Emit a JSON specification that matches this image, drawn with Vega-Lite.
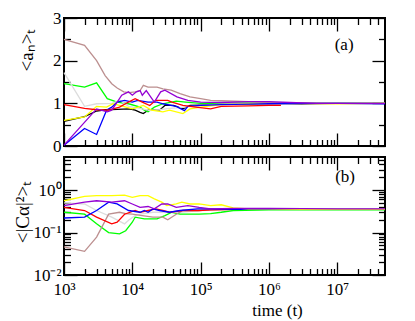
{
  "$schema": "https://vega.github.io/schema/vega-lite/v6.json",
  "padding": {"left": 12, "top": 8, "right": 30, "bottom": 3},
  "spacing": 11,
  "bounds": "flush",
  "config": {
    "view": {"stroke": "#000000", "strokeWidth": 2, "strokeOpacity": 1},
    "font": "Liberation Serif",
    "axis": {"grid": false, "domain": false, "ticks": true, "zindex": 2, "tickColor": "#000000", "tickOpacity": 1, "tickWidth": 1.3, "labelFont": "Liberation Serif", "labelFontSize": 17, "labelColor": "black", "labelFlush": false, "titleFont": "Liberation Serif", "titleFontSize": 19, "titleFontWeight": "normal", "titleColor": "black"}
  },
  "datasets": {
    "a": [
      {"s":"black","t":1000,"v":0.58},{"s":"black","t":2000,"v":0.69},{"s":"black","t":3000,"v":0.82},{"s":"black","t":4000,"v":0.85},{"s":"black","t":6000,"v":0.86},{"s":"black","t":9000,"v":0.87},{"s":"black","t":11000,"v":0.84},{"s":"black","t":13000,"v":0.79},{"s":"black","t":14500,"v":0.76},{"s":"black","t":17000,"v":0.84},{"s":"black","t":25000,"v":0.84},{"s":"black","t":30000,"v":0.95},{"s":"black","t":40000,"v":0.95},{"s":"black","t":55000,"v":0.87},{"s":"black","t":70000,"v":0.95},{"s":"black","t":100000,"v":0.96},{"s":"black","t":200000,"v":0.98},{"s":"black","t":500000,"v":0.99},{"s":"black","t":1000000,"v":1.0},{"s":"black","t":3000000,"v":0.99},{"s":"black","t":10000000,"v":1.0},{"s":"black","t":50000000,"v":1.0},
      {"s":"green","t":1000,"v":1.46},{"s":"green","t":2000,"v":1.38},{"s":"green","t":3000,"v":1.48},{"s":"green","t":4300,"v":1.11},{"s":"green","t":6000,"v":1.03},{"s":"green","t":8800,"v":0.99},{"s":"green","t":13000,"v":0.91},{"s":"green","t":15000,"v":0.84},{"s":"green","t":17000,"v":0.8},{"s":"green","t":21000,"v":0.91},{"s":"green","t":28000,"v":0.99},{"s":"green","t":44000,"v":1.05},{"s":"green","t":60000,"v":1.03},{"s":"green","t":100000,"v":1.0},{"s":"green","t":200000,"v":1.0},{"s":"green","t":500000,"v":1.01},{"s":"green","t":1000000,"v":1.0},{"s":"green","t":3000000,"v":1.0},{"s":"green","t":10000000,"v":1.0},{"s":"green","t":50000000,"v":1.0},
      {"s":"gray","t":1000,"v":1.72},{"s":"gray","t":2000,"v":0.93},{"s":"gray","t":3000,"v":0.99},{"s":"gray","t":5000,"v":1.0},{"s":"gray","t":6600,"v":1.07},{"s":"gray","t":8800,"v":0.93},{"s":"gray","t":13000,"v":0.88},{"s":"gray","t":18000,"v":0.83},{"s":"gray","t":25000,"v":0.85},{"s":"gray","t":35000,"v":0.88},{"s":"gray","t":50000,"v":0.9},{"s":"gray","t":100000,"v":0.95},{"s":"gray","t":200000,"v":0.98},{"s":"gray","t":500000,"v":1.0},{"s":"gray","t":1000000,"v":1.0},{"s":"gray","t":3000000,"v":1.01},{"s":"gray","t":10000000,"v":1.0},{"s":"gray","t":50000000,"v":1.0},
      {"s":"yellow","t":1000,"v":0.6},{"s":"yellow","t":2000,"v":0.68},{"s":"yellow","t":3000,"v":0.93},{"s":"yellow","t":4200,"v":0.91},{"s":"yellow","t":5200,"v":0.99},{"s":"yellow","t":6500,"v":0.95},{"s":"yellow","t":10000,"v":0.87},{"s":"yellow","t":14500,"v":0.95},{"s":"yellow","t":19000,"v":0.84},{"s":"yellow","t":28000,"v":0.8},{"s":"yellow","t":35000,"v":0.84},{"s":"yellow","t":55000,"v":0.76},{"s":"yellow","t":70000,"v":0.87},{"s":"yellow","t":100000,"v":0.91},{"s":"yellow","t":200000,"v":0.97},{"s":"yellow","t":500000,"v":0.99},{"s":"yellow","t":1000000,"v":1.0},{"s":"yellow","t":3000000,"v":1.0},{"s":"yellow","t":10000000,"v":0.99},{"s":"yellow","t":50000000,"v":1.0},
      {"s":"brown","t":1000,"v":2.5},{"s":"brown","t":2000,"v":2.36},{"s":"brown","t":3000,"v":2.0},{"s":"brown","t":4000,"v":1.65},{"s":"brown","t":5000,"v":1.46},{"s":"brown","t":6000,"v":1.36},{"s":"brown","t":7500,"v":1.27},{"s":"brown","t":9000,"v":1.25},{"s":"brown","t":11000,"v":1.27},{"s":"brown","t":13000,"v":1.3},{"s":"brown","t":14500,"v":1.42},{"s":"brown","t":17000,"v":1.38},{"s":"brown","t":23000,"v":1.38},{"s":"brown","t":28000,"v":1.34},{"s":"brown","t":37000,"v":1.31},{"s":"brown","t":50000,"v":1.23},{"s":"brown","t":70000,"v":1.15},{"s":"brown","t":100000,"v":1.11},{"s":"brown","t":140000,"v":1.07},{"s":"brown","t":200000,"v":1.06},{"s":"brown","t":500000,"v":1.04},{"s":"brown","t":1000000,"v":1.02},{"s":"brown","t":3000000,"v":1.01},{"s":"brown","t":10000000,"v":1.0},{"s":"brown","t":50000000,"v":1.0},
      {"s":"blue","t":1000,"v":0.02},{"s":"blue","t":2000,"v":0.41},{"s":"blue","t":3000,"v":0.27},{"s":"blue","t":4200,"v":0.84},{"s":"blue","t":5000,"v":0.91},{"s":"blue","t":6000,"v":1.03},{"s":"blue","t":7700,"v":1.07},{"s":"blue","t":10000,"v":1.03},{"s":"blue","t":12000,"v":1.07},{"s":"blue","t":17000,"v":1.03},{"s":"blue","t":23000,"v":1.03},{"s":"blue","t":28000,"v":0.99},{"s":"blue","t":44000,"v":0.93},{"s":"blue","t":58000,"v":0.83},{"s":"blue","t":65000,"v":0.93},{"s":"blue","t":100000,"v":0.95},{"s":"blue","t":200000,"v":0.97},{"s":"blue","t":500000,"v":0.98},{"s":"blue","t":1000000,"v":0.99},{"s":"blue","t":3000000,"v":1.0},{"s":"blue","t":10000000,"v":1.0},{"s":"blue","t":50000000,"v":0.99},
      {"s":"red","t":1000,"v":0.97},{"s":"red","t":2000,"v":0.88},{"s":"red","t":3000,"v":0.85},{"s":"red","t":4500,"v":0.84},{"s":"red","t":6500,"v":0.91},{"s":"red","t":8800,"v":1.03},{"s":"red","t":11000,"v":1.11},{"s":"red","t":14000,"v":1.03},{"s":"red","t":18000,"v":0.95},{"s":"red","t":22000,"v":1.07},{"s":"red","t":33000,"v":1.07},{"s":"red","t":38000,"v":1.03},{"s":"red","t":55000,"v":0.95},{"s":"red","t":85000,"v":0.91},{"s":"red","t":140000,"v":0.87},{"s":"red","t":200000,"v":0.93},{"s":"red","t":500000,"v":0.94},{"s":"red","t":1000000,"v":0.95},{"s":"red","t":1500000,"v":0.95},
      {"s":"violet","t":1000,"v":0.02},{"s":"violet","t":3000,"v":0.87},{"s":"violet","t":4300,"v":0.8},{"s":"violet","t":5000,"v":0.84},{"s":"violet","t":6000,"v":1.03},{"s":"violet","t":7000,"v":1.19},{"s":"violet","t":8800,"v":1.27},{"s":"violet","t":10000,"v":1.19},{"s":"violet","t":11500,"v":1.27},{"s":"violet","t":13000,"v":1.3},{"s":"violet","t":14000,"v":1.19},{"s":"violet","t":16000,"v":1.3},{"s":"violet","t":21000,"v":1.03},{"s":"violet","t":26000,"v":1.27},{"s":"violet","t":30000,"v":1.31},{"s":"violet","t":45000,"v":1.15},{"s":"violet","t":65000,"v":1.07},{"s":"violet","t":100000,"v":1.03},{"s":"violet","t":200000,"v":1.02},{"s":"violet","t":500000,"v":1.04},{"s":"violet","t":1000000,"v":1.04},{"s":"violet","t":2000000,"v":1.02},{"s":"violet","t":5000000,"v":1.0},{"s":"violet","t":10000000,"v":1.0},{"s":"violet","t":50000000,"v":1.0}
    ],
    "c": [
      {"s":"green","t":1000,"v":0.3},{"s":"green","t":2000,"v":0.27},{"s":"green","t":3000,"v":0.16},{"s":"green","t":4500,"v":0.1},{"s":"green","t":6500,"v":0.093},{"s":"green","t":8000,"v":0.11},{"s":"green","t":10000,"v":0.175},{"s":"green","t":11000,"v":0.23},{"s":"green","t":15000,"v":0.21},{"s":"green","t":23000,"v":0.21},{"s":"green","t":30000,"v":0.25},{"s":"green","t":38000,"v":0.3},{"s":"green","t":50000,"v":0.27},{"s":"green","t":95000,"v":0.27},{"s":"green","t":140000,"v":0.28},{"s":"green","t":200000,"v":0.3},{"s":"green","t":300000,"v":0.33},{"s":"green","t":1000000,"v":0.34},{"s":"green","t":10000000,"v":0.34},{"s":"green","t":50000000,"v":0.34},
      {"s":"gray","t":1000,"v":0.5},{"s":"gray","t":2000,"v":0.47},{"s":"gray","t":3000,"v":0.33},{"s":"gray","t":5000,"v":0.23},{"s":"gray","t":7700,"v":0.16},{"s":"gray","t":9000,"v":0.2},{"s":"gray","t":11000,"v":0.25},{"s":"gray","t":13000,"v":0.27},{"s":"gray","t":20000,"v":0.3},{"s":"gray","t":50000,"v":0.3},{"s":"gray","t":100000,"v":0.33},{"s":"gray","t":300000,"v":0.35},{"s":"gray","t":1000000,"v":0.35},{"s":"gray","t":10000000,"v":0.35},{"s":"gray","t":50000000,"v":0.35},
      {"s":"brown","t":1000,"v":0.046},{"s":"brown","t":2000,"v":0.036},{"s":"brown","t":3000,"v":0.078},{"s":"brown","t":4500,"v":0.27},{"s":"brown","t":6500,"v":0.3},{"s":"brown","t":8000,"v":0.28},{"s":"brown","t":10000,"v":0.27},{"s":"brown","t":14000,"v":0.25},{"s":"brown","t":20000,"v":0.23},{"s":"brown","t":28000,"v":0.23},{"s":"brown","t":33000,"v":0.2},{"s":"brown","t":44000,"v":0.27},{"s":"brown","t":55000,"v":0.33},{"s":"brown","t":90000,"v":0.33},{"s":"brown","t":140000,"v":0.34},{"s":"brown","t":300000,"v":0.35},{"s":"brown","t":1000000,"v":0.35},{"s":"brown","t":10000000,"v":0.35},{"s":"brown","t":50000000,"v":0.35},
      {"s":"red","t":1000,"v":0.39},{"s":"red","t":2000,"v":0.33},{"s":"red","t":3000,"v":0.23},{"s":"red","t":5000,"v":0.16},{"s":"red","t":6000,"v":0.175},{"s":"red","t":7700,"v":0.27},{"s":"red","t":11000,"v":0.33},{"s":"red","t":13000,"v":0.3},{"s":"red","t":17000,"v":0.33},{"s":"red","t":22000,"v":0.36},{"s":"red","t":28000,"v":0.33},{"s":"red","t":36000,"v":0.3},{"s":"red","t":55000,"v":0.33},{"s":"red","t":95000,"v":0.33},{"s":"red","t":140000,"v":0.34},{"s":"red","t":300000,"v":0.35},{"s":"red","t":1000000,"v":0.35},{"s":"red","t":1500000,"v":0.35},
      {"s":"blue","t":1000,"v":0.22},{"s":"blue","t":2000,"v":0.23},{"s":"blue","t":3000,"v":0.33},{"s":"blue","t":4500,"v":0.52},{"s":"blue","t":6000,"v":0.47},{"s":"blue","t":8800,"v":0.33},{"s":"blue","t":13000,"v":0.3},{"s":"blue","t":15000,"v":0.33},{"s":"blue","t":17000,"v":0.3},{"s":"blue","t":20000,"v":0.36},{"s":"blue","t":25000,"v":0.33},{"s":"blue","t":35000,"v":0.3},{"s":"blue","t":50000,"v":0.33},{"s":"blue","t":90000,"v":0.36},{"s":"blue","t":140000,"v":0.36},{"s":"blue","t":300000,"v":0.35},{"s":"blue","t":1000000,"v":0.35},{"s":"blue","t":10000000,"v":0.35},{"s":"blue","t":50000000,"v":0.35},
      {"s":"yellow","t":1000,"v":0.56},{"s":"yellow","t":2000,"v":0.71},{"s":"yellow","t":3000,"v":0.74},{"s":"yellow","t":5000,"v":0.74},{"s":"yellow","t":7700,"v":0.76},{"s":"yellow","t":10000,"v":0.67},{"s":"yellow","t":13000,"v":0.74},{"s":"yellow","t":17000,"v":0.74},{"s":"yellow","t":21000,"v":0.62},{"s":"yellow","t":27000,"v":0.52},{"s":"yellow","t":32000,"v":0.43},{"s":"yellow","t":44000,"v":0.47},{"s":"yellow","t":53000,"v":0.52},{"s":"yellow","t":70000,"v":0.47},{"s":"yellow","t":95000,"v":0.47},{"s":"yellow","t":140000,"v":0.43},{"s":"yellow","t":200000,"v":0.45},{"s":"yellow","t":300000,"v":0.38},{"s":"yellow","t":500000,"v":0.36},{"s":"yellow","t":1000000,"v":0.36},{"s":"yellow","t":3000000,"v":0.35},{"s":"yellow","t":10000000,"v":0.35},{"s":"yellow","t":50000000,"v":0.35},
      {"s":"violet","t":1000,"v":0.43},{"s":"violet","t":2000,"v":0.52},{"s":"violet","t":3000,"v":0.56},{"s":"violet","t":5000,"v":0.52},{"s":"violet","t":7700,"v":0.56},{"s":"violet","t":10000,"v":0.47},{"s":"violet","t":13000,"v":0.39},{"s":"violet","t":17000,"v":0.41},{"s":"violet","t":21000,"v":0.36},{"s":"violet","t":27000,"v":0.47},{"s":"violet","t":33000,"v":0.47},{"s":"violet","t":44000,"v":0.39},{"s":"violet","t":65000,"v":0.43},{"s":"violet","t":95000,"v":0.39},{"s":"violet","t":140000,"v":0.36},{"s":"violet","t":300000,"v":0.37},{"s":"violet","t":1000000,"v":0.37},{"s":"violet","t":10000000,"v":0.36},{"s":"violet","t":50000000,"v":0.36}
    ],
    "la": [{"t":12600000,"v":2.37,"lab":"(a)"}],
    "lb": [{"t":13000000,"v":2.0,"lab":"(b)"}]
  },
  "vconcat": [
    {
      "width": 321, "height": 128,
      "view": {"stroke": "#000000", "strokeWidth": 2},
      "resolve": {"axis": {"x": "independent", "y": "independent"}},
      "layer": [
        {
          "data": {"name": "a"},
          "mark": {"type": "line", "strokeWidth": 1.3},
          "encoding": {
            "x": {"field": "t", "type": "quantitative", "scale": {"type": "log", "domain": [1000, 50000000], "nice": false}, "axis": {"orient": "bottom", "offset": -13, "values": [1000, 10000, 100000, 1000000, 10000000], "labels": false, "ticks": true, "tickColor": "#000000", "tickSize": 13, "title": null}},
            "y": {"field": "v", "type": "quantitative", "scale": {"domain": [0, 3], "nice": false, "zero": false}, "axis": {"orient": "left", "offset": -13, "values": [0, 1, 2, 3], "ticks": true, "tickColor": "#000000", "tickSize": 13, "labelPadding": 3, "title": "<aₙ>ₜ", "titleX": -51, "titleY": 32, "titleBaseline": "middle", "titleAngle": -90}},
            "color": {"field": "s", "type": "nominal", "legend": null, "scale": {"domain": ["black", "red", "green", "blue", "yellow", "brown", "gray", "violet"], "range": ["#000000", "#ff0000", "#00ff00", "#0000ff", "#ffff00", "#bc8f8f", "#dcdcdc", "#9400d3"]}}
          }
        },
        {
          "data": {"name": "la"},
          "mark": {"type": "text", "fontSize": 17, "font": "Liberation Serif", "color": "black"},
          "encoding": {
            "x": {"field": "t", "type": "quantitative", "scale": {"type": "log", "domain": [1000, 50000000], "nice": false}, "axis": {"orient": "top", "offset": -13, "values": [1000, 10000, 100000, 1000000, 10000000], "labels": false, "tickSize": 13, "title": null}},
            "y": {"field": "v", "type": "quantitative", "scale": {"domain": [0, 3], "nice": false, "zero": false}, "axis": {"orient": "right", "offset": -13, "values": [0, 1, 2, 3], "labels": false, "tickSize": 13, "title": null}},
            "text": {"field": "lab"}
          }
        },
        {
          "data": {"name": "la"},
          "mark": {"type": "text", "opacity": 0},
          "encoding": {
            "x": {"field": "t", "type": "quantitative", "scale": {"type": "log", "domain": [1000, 50000000], "nice": false}, "axis": {"orient": "bottom", "offset": -6.5, "values": [2000,3000,4000,5000,6000,7000,8000,9000,20000,30000,40000,50000,60000,70000,80000,90000,200000,300000,400000,500000,600000,700000,800000,900000,2000000,3000000,4000000,5000000,6000000,7000000,8000000,9000000,20000000,30000000,40000000], "labels": false, "tickSize": 6.5, "title": null}},
            "y": {"field": "v", "type": "quantitative", "scale": {"domain": [0, 3], "nice": false, "zero": false}, "axis": {"orient": "left", "offset": -6.5, "values": [0.5, 1.5, 2.5], "labels": false, "tickSize": 6.5, "title": null}},
            "text": {"field": "lab"}
          }
        },
        {
          "data": {"name": "la"},
          "mark": {"type": "text", "opacity": 0},
          "encoding": {
            "x": {"field": "t", "type": "quantitative", "scale": {"type": "log", "domain": [1000, 50000000], "nice": false}, "axis": {"orient": "top", "offset": -6.5, "values": [2000,3000,4000,5000,6000,7000,8000,9000,20000,30000,40000,50000,60000,70000,80000,90000,200000,300000,400000,500000,600000,700000,800000,900000,2000000,3000000,4000000,5000000,6000000,7000000,8000000,9000000,20000000,30000000,40000000], "labels": false, "tickSize": 6.5, "title": null}},
            "y": {"field": "v", "type": "quantitative", "scale": {"domain": [0, 3], "nice": false, "zero": false}, "axis": {"orient": "right", "offset": -6.5, "values": [0.5, 1.5, 2.5], "labels": false, "tickSize": 6.5, "title": null}},
            "text": {"field": "lab"}
          }
        }
      ]
    },
    {
      "width": 321, "height": 118,
      "view": {"stroke": "#000000", "strokeWidth": 2},
      "resolve": {"axis": {"x": "independent", "y": "independent"}},
      "layer": [
        {
          "data": {"name": "c"},
          "mark": {"type": "line", "strokeWidth": 1.3},
          "encoding": {
            "x": {"field": "t", "type": "quantitative", "scale": {"type": "log", "domain": [1000, 50000000], "nice": false}, "axis": {"orient": "bottom", "offset": -13, "values": [1000, 10000, 100000, 1000000, 10000000], "ticks": true, "tickColor": "#000000", "tickSize": 13, "labelPadding": 6, "labelExpr": "datum.value < 5000 ? '10³' : datum.value < 50000 ? '10⁴' : datum.value < 500000 ? '10⁵' : datum.value < 5000000 ? '10⁶' : '10⁷'", "title": "time (t)", "titleFontSize": 17, "titleX": 213, "titleY": 53, "titleBaseline": "alphabetic"}},
            "y": {"field": "v", "type": "quantitative", "scale": {"type": "log", "domain": [0.01, 6], "nice": false}, "axis": {"orient": "left", "offset": -13, "values": [0.01, 0.1, 1], "ticks": true, "tickColor": "#000000", "tickSize": 13, "labelPadding": 3, "labelExpr": "datum.value < 0.05 ? '10⁻²' : datum.value < 0.5 ? '10⁻¹' : '10⁰'", "title": "<|Cα|²>ₜ", "titleX": -55, "titleY": 55, "titleBaseline": "middle", "titleAngle": -90}},
            "color": {"field": "s", "type": "nominal", "legend": null, "scale": {"domain": ["black", "red", "green", "blue", "yellow", "brown", "gray", "violet"], "range": ["#000000", "#ff0000", "#00ff00", "#0000ff", "#ffff00", "#bc8f8f", "#dcdcdc", "#9400d3"]}}
          }
        },
        {
          "data": {"name": "lb"},
          "mark": {"type": "text", "fontSize": 17, "font": "Liberation Serif", "color": "black"},
          "encoding": {
            "x": {"field": "t", "type": "quantitative", "scale": {"type": "log", "domain": [1000, 50000000], "nice": false}, "axis": {"orient": "top", "offset": -13, "values": [1000, 10000, 100000, 1000000, 10000000], "labels": false, "tickSize": 13, "title": null}},
            "y": {"field": "v", "type": "quantitative", "scale": {"type": "log", "domain": [0.01, 6], "nice": false}, "axis": {"orient": "right", "offset": -13, "values": [0.01, 0.1, 1], "labels": false, "tickSize": 13, "title": null}},
            "text": {"field": "lab"}
          }
        },
        {
          "data": {"name": "lb"},
          "mark": {"type": "text", "opacity": 0},
          "encoding": {
            "x": {"field": "t", "type": "quantitative", "scale": {"type": "log", "domain": [1000, 50000000], "nice": false}, "axis": {"orient": "bottom", "offset": -6.5, "values": [2000,3000,4000,5000,6000,7000,8000,9000,20000,30000,40000,50000,60000,70000,80000,90000,200000,300000,400000,500000,600000,700000,800000,900000,2000000,3000000,4000000,5000000,6000000,7000000,8000000,9000000,20000000,30000000,40000000], "labels": false, "tickSize": 6.5, "title": null}},
            "y": {"field": "v", "type": "quantitative", "scale": {"type": "log", "domain": [0.01, 6], "nice": false}, "axis": {"orient": "left", "offset": -6.5, "values": [0.02,0.03,0.04,0.05,0.06,0.07,0.08,0.09,0.2,0.3,0.4,0.5,0.6,0.7,0.8,0.9,2,3,4,5], "labels": false, "tickSize": 6.5, "title": null}},
            "text": {"field": "lab"}
          }
        },
        {
          "data": {"name": "lb"},
          "mark": {"type": "text", "opacity": 0},
          "encoding": {
            "x": {"field": "t", "type": "quantitative", "scale": {"type": "log", "domain": [1000, 50000000], "nice": false}, "axis": {"orient": "top", "offset": -6.5, "values": [2000,3000,4000,5000,6000,7000,8000,9000,20000,30000,40000,50000,60000,70000,80000,90000,200000,300000,400000,500000,600000,700000,800000,900000,2000000,3000000,4000000,5000000,6000000,7000000,8000000,9000000,20000000,30000000,40000000], "labels": false, "tickSize": 6.5, "title": null}},
            "y": {"field": "v", "type": "quantitative", "scale": {"type": "log", "domain": [0.01, 6], "nice": false}, "axis": {"orient": "right", "offset": -6.5, "values": [0.02,0.03,0.04,0.05,0.06,0.07,0.08,0.09,0.2,0.3,0.4,0.5,0.6,0.7,0.8,0.9,2,3,4,5], "labels": false, "tickSize": 6.5, "title": null}},
            "text": {"field": "lab"}
          }
        }
      ]
    }
  ]
}
